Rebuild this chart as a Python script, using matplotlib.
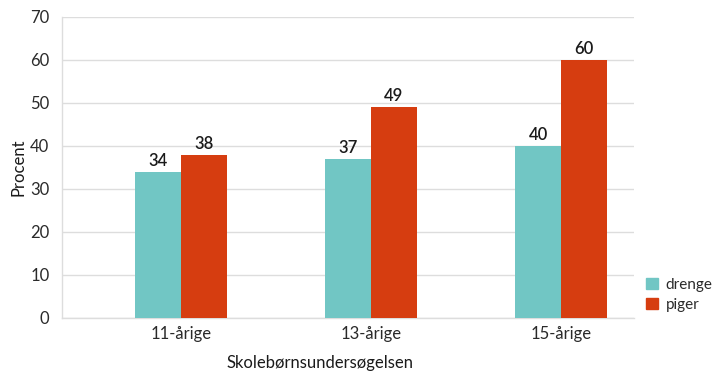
import matplotlib
matplotlib.use("Agg")
import matplotlib.pyplot as plt
from matplotlib.patches import Patch
import numpy as np

categories = ["11-årige", "13-årige", "15-årige"]
drenge = [34, 37, 40]
piger = [38, 49, 60]
yticks = [0, 10, 20, 30, 40, 50, 60, 70]

plt.rcParams["font.family"] = ["Lato", "DejaVu Sans"]

teal = "#71C6C4"
red = "#D63D10"
grid_c = "#DDDDDD"
text_c = "#2A2A2A"

fig = plt.figure(figsize=(7.12, 3.71), dpi=100)
ax = fig.add_axes([0.0871, 0.1429, 0.8033, 0.8113])

x = np.arange(len(categories))
w = 0.242
b1 = ax.bar(x - w / 2, drenge, w, color=teal, zorder=3)
b2 = ax.bar(x + w / 2, piger, w, color=red, zorder=3)

for bars, vals in ((b1, drenge), (b2, piger)):
    for r, v in zip(bars, vals):
        ax.text(r.get_x() + r.get_width() / 2, v + 0.7, str(v),
                ha="center", va="bottom", fontsize=12, color="#1A1A1A",
                fontweight="semibold")

ax.set_xlim(-0.626, 2.384)
ax.set_ylim(0, 70)
ax.set_yticks(yticks)
ax.set_xticks(x)
ax.set_xticklabels(categories)
ax.yaxis.grid(True, color=grid_c, linewidth=1, zorder=0)
ax.set_axisbelow(True)
for s in ("top", "right"):
    ax.spines[s].set_visible(False)
for s in ("left", "bottom"):
    ax.spines[s].set_color(grid_c)
    ax.spines[s].set_linewidth(1)
ax.tick_params(axis="both", length=0, labelsize=12, colors=text_c, pad=6)
ax.tick_params(axis="y", pad=9)

ax.set_ylabel("Procent", fontsize=12, color="#1A1A1A", labelpad=3)
fig.text(0.45, 0.0, "Skolebørnsundersøgelsen", ha="center", va="bottom",
         fontsize=12, color="#1A1A1A")

handles = [Patch(color=teal, label="drenge"), Patch(color=red, label="piger")]
fig.legend(handles=handles, loc="lower left", bbox_to_anchor=(0.908, 0.16),
           frameon=False, fontsize=11, handlelength=0.75, handleheight=0.75,
           handletextpad=0.5, labelspacing=0.4, labelcolor=text_c,
           borderpad=0, borderaxespad=0)

fig.savefig("out.png", dpi=100)
